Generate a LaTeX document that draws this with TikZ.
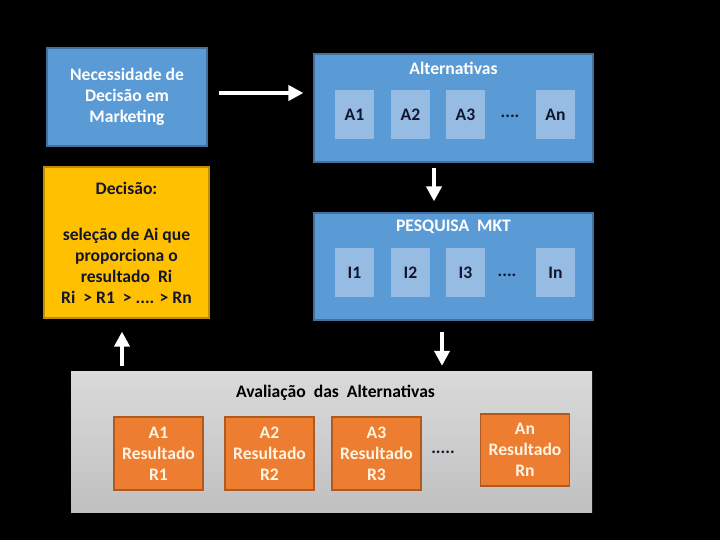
\documentclass[tikz,border=0pt]{standalone}
\usepackage{fontspec}
\setmainfont{Carlito}
\usetikzlibrary{arrows.meta,calc}

\definecolor{boxblue}{RGB}{91,155,213}
\definecolor{boxblueline}{RGB}{65,113,156}
\definecolor{innerblue}{RGB}{150,188,228}
\definecolor{boxyellow}{RGB}{255,192,0}
\definecolor{boxyellowline}{RGB}{190,144,0}
\definecolor{boxorange}{RGB}{237,125,49}
\definecolor{boxorangeline}{RGB}{174,90,33}
\definecolor{graytop}{RGB}{218,218,218}
\definecolor{graybottom}{RGB}{192,192,192}
\definecolor{textcream}{RGB}{255,244,225}
\definecolor{textnavy}{RGB}{18,22,45}

\begin{document}
\begin{tikzpicture}[x=1pt, y=-1pt,
    txt/.style={font=\fontsize{17.6}{21}\selectfont\bfseries, align=center, inner sep=0pt},
    bluebox/.style={txt, draw=boxblueline, line width=1.2pt, fill=boxblue, text=white},
    innerbox/.style={txt, fill=innerblue, text=textnavy, minimum width=39pt, minimum height=49pt},
    yellowbox/.style={txt, draw=boxyellowline, line width=1.2pt, fill=boxyellow, text=textnavy},
    orangebox/.style={txt, draw=boxorangeline, line width=1.2pt, fill=boxorange, text=textcream,
        minimum width=89pt, minimum height=73pt},
    bigarrow/.style={draw=white, line width=4.5pt, -{Triangle[length=15pt,width=15pt]}}]
    % Background
    \fill [black] (0,0) rectangle (720,540);
    \useasboundingbox (0,0) rectangle (720,540);

    % Need for a decision
    \node [bluebox, minimum width=160pt, minimum height=98pt] (nec) at (127,97)
        {Necessidade de\\Decisão em\\Marketing};

    % Alternatives
    \node [bluebox, minimum width=279pt, minimum height=108pt] (alt) at (453.5,108) {};
    \node [txt, text=white] (alttitle) at ($(alt.north)+(0,15)$) {Alternativas};
    \node [innerbox] (a1) at (354.5,114.5) {A1};
    \node [innerbox] (a2) at (410.5,114.5) {A2};
    \node [innerbox] (a3) at (465.5,114.5) {A3};
    \node [txt, text=textnavy] (adots) at (510,116) {....};
    \node [innerbox] (an) at (555.5,114.5) {An};

    % Decision
    \node [yellowbox, minimum width=165pt, minimum height=151pt] (dec) at (126.5,242.5)
        {Decisão:\\[25pt]seleção de Ai que\\proporciona o\\resultado~~Ri\\Ri~~> R1~~> .... > Rn};

    % Marketing research
    \node [bluebox, minimum width=279pt, minimum height=107pt] (pesq) at (453.5,266.5) {};
    \node [txt, text=white] (pesqtitle) at ($(pesq.north)+(0,14)$) {PESQUISA~~MKT};
    \node [innerbox] (i1) at (354.5,272.5) {I1};
    \node [innerbox] (i2) at (410.5,272.5) {I2};
    \node [innerbox] (i3) at (465.5,272.5) {I3};
    \node [txt, text=textnavy] (idots) at (507,275) {....};
    \node [innerbox] (in) at (555.5,272.5) {In};

    % Evaluation of the alternatives
    \node [txt, minimum width=521pt, minimum height=141pt, top color=graytop, bottom color=graybottom]
        (aval) at (331.5,441.5) {};
    \node [txt, text=black] (avaltitle) at ($(aval.north)+(4,22)$) {Avaliação~~das~~Alternativas};
    \node [orangebox] (r1) at (158.5,453.5) {A1\\Resultado\\R1};
    \node [orangebox] (r2) at (269.5,453.5) {A2\\Resultado\\R2};
    \node [orangebox] (r3) at (376.5,453.5) {A3\\Resultado\\R3};
    \node [txt, text=textnavy] (rdots) at (443,452) {.....};
    \node [orangebox, minimum height=72pt] (rn) at (525,450) {An\\Resultado\\Rn};

    % Arrows
    \draw [bigarrow] ($(nec.east)+(11,-4)$) -- ($(alt.west|-nec.east)+(-10,-4)$);
    \draw [bigarrow] ($(alt.south)+(-19.5,5)$) -- ($(pesq.north)+(-19.5,-11)$);
    \draw [bigarrow] ($(pesq.south)+(-11.5,11)$) -- ($(pesq.south|-aval.north)+(-11.5,-5)$);
    \draw [bigarrow] ($(dec.south|-aval.north)+(-4.5,-5)$) -- ($(dec.south)+(-4.5,13)$);
\end{tikzpicture}
\end{document}
